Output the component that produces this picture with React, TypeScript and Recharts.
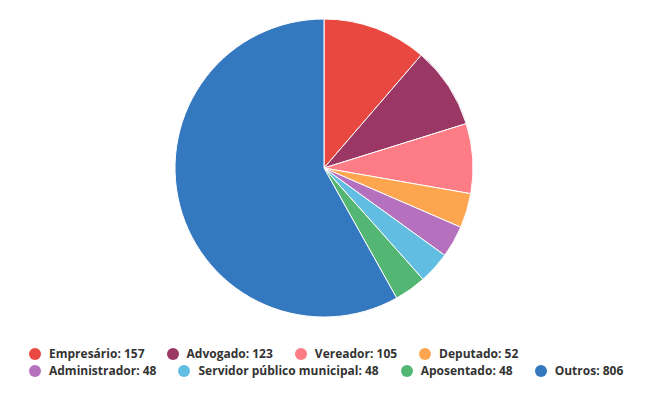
import React from "react";
import { PieChart, Pie, Cell, Legend } from "recharts";

const categories = [
    "Empresário",
    "Advogado",
    "Vereador",
    "Deputado",
    "Administrador",
    "Servidor público municipal",
    "Aposentado",
    "Outros"
];

const counts = [157, 123, 105, 52, 48, 48, 48, 806];

const COLORS = [
    "#e8483f",
    "#9b3764",
    "#fd7c85",
    "#fea64f",
    "#b571bd",
    "#62bde2",
    "#53b673",
    "#3478bf"
];

const data = categories.map((name, i) => ({ name, value: counts[i] }));

function LegendContent() {
    return (
        <div
            style={{
                display: "flex",
                flexWrap: "wrap",
                justifyContent: "flex-start",
                columnGap: 22,
                fontFamily: "'Open Sans', sans-serif",
                fontSize: 12,
                fontWeight: 700,
                color: "#333333"
            }}
        >
            {data.map((d, i) => (
                <div
                    key={d.name}
                    style={{ display: "flex", alignItems: "center", lineHeight: "17px" }}
                >
                    <span
                        style={{
                            width: 12,
                            height: 12,
                            borderRadius: "50%",
                            background: COLORS[i],
                            display: "inline-block",
                            marginRight: 8
                        }}
                    />
                    <span>{`${d.name}: ${d.value}`}</span>
                </div>
            ))}
        </div>
    );
}

export default function App() {
    return (
        <div style={{ position: "fixed", left: 0, top: 0, width: 648, height: 400, background: "#fff" }}>
            <PieChart width={648} height={400} margin={{ top: 0, right: 0, bottom: 0, left: 0 }}>
                <Pie
                    data={data}
                    dataKey="value"
                    nameKey="name"
                    cx={324}
                    cy={168}
                    outerRadius={149}
                    startAngle={90}
                    endAngle={-270}
                    stroke="#ffffff"
                    strokeWidth={1}
                    isAnimationActive={false}
                >
                    {data.map((entry, index) => (
                        <Cell key={`cell-${index}`} fill={COLORS[index]} />
                    ))}
                </Pie>
                <Legend
                    content={() => <LegendContent />}
                    wrapperStyle={{ position: "absolute", left: 29, top: 345, width: 612 }}
                />
            </PieChart>
        </div>
    );
}
